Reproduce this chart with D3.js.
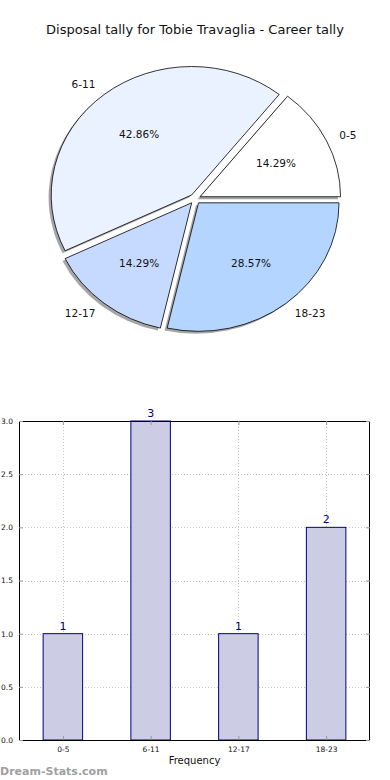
<!DOCTYPE html>
<html lang="en">
<head>
    <meta charset="UTF-8">
    <title>Disposal tally - Tobie Travaglia</title>
    <script src="https://d3js.org/d3.v7.min.js"></script>
    <style>
        body { margin: 0; background: #fff; }
        svg { display: block; font-family: "DejaVu Sans", sans-serif; }
    </style>
</head>
<body>
<div id="chart"></div>
<script>
    // data
    const categories = ["0-5", "6-11", "12-17", "18-23"];
    const counts = [1, 3, 1, 2];
    const sliceColors = ["#ffffff", "#ebf2ff", "#c6d9ff", "#b3d5ff"];
    const yTicks = [0, 0.5, 1.0, 1.5, 2.0, 2.5, 3.0];

    const width = 390, height = 780;
    const svg = d3.select("#chart").append("svg")
        .attr("width", width)
        .attr("height", height);

    svg.append("text")
        .attr("x", 195).attr("y", 34)
        .attr("text-anchor", "middle")
        .attr("font-size", 13)
        .attr("fill", "#111")
        .text("Disposal tally for Tobie Travaglia - Career tally");

    // ---- pie (elliptical, like matplotlib without equal aspect) ----
    const cx = 195.1, cy = 198.9, rx = 140.5, ry = 128.5;
    const explode = 0.039;

    // counter-clockwise from 3 o'clock
    const pie = d3.pie().sort(null).startAngle(Math.PI / 2).endAngle(Math.PI / 2 - 2 * Math.PI);
    const arcs = pie(counts);
    const arc = d3.arc().innerRadius(0).outerRadius(1);
    const total = d3.sum(counts);

    const pieG = svg.append("g").attr("transform", `translate(${cx},${cy})`);

    function unitOffset(d, r) {
        const mid = (d.startAngle + d.endAngle) / 2;
        return [Math.sin(mid) * r, -Math.cos(mid) * r];
    }

    // shadows first
    pieG.append("g").attr("transform", "translate(-2.6,2.4)")
        .selectAll("g")
        .data(arcs)
        .enter().append("g")
        .attr("transform", d => {
            const o = unitOffset(d, explode);
            return `translate(${o[0] * rx},${o[1] * ry}) scale(${rx},${ry})`;
        })
        .append("path")
        .attr("d", arc)
        .attr("fill", "#4d4d4d")
        .attr("opacity", 0.5);

    pieG.append("g")
        .selectAll("g")
        .data(arcs)
        .enter().append("g")
        .attr("transform", d => {
            const o = unitOffset(d, explode);
            return `translate(${o[0] * rx},${o[1] * ry}) scale(${rx},${ry})`;
        })
        .append("path")
        .attr("d", arc)
        .attr("fill", (d, i) => sliceColors[i])
        .attr("stroke", "#000")
        .attr("stroke-width", 0.8)
        .attr("vector-effect", "non-scaling-stroke");

    // percent labels
    pieG.append("g")
        .selectAll("text")
        .data(arcs)
        .enter().append("text")
        .attr("x", d => unitOffset(d, explode + 0.6)[0] * rx)
        .attr("y", d => unitOffset(d, explode + 0.6)[1] * ry)
        .attr("dy", "0.35em")
        .attr("text-anchor", "middle")
        .attr("font-size", 10.5)
        .attr("fill", "#111")
        .text(d => (d.value / total * 100).toFixed(2) + "%");

    // category labels
    pieG.append("g")
        .selectAll("text")
        .data(arcs)
        .enter().append("text")
        .attr("x", d => unitOffset(d, explode + 1.1)[0] * rx)
        .attr("y", d => unitOffset(d, explode + 1.1)[1] * ry)
        .attr("dy", "0.35em")
        .attr("text-anchor", d => unitOffset(d, 1)[0] > 0 ? "start" : "end")
        .attr("font-size", 10.5)
        .attr("fill", "#111")
        .text((d, i) => categories[i]);

    // ---- bar chart ----
    const plotLeft = 19, plotRight = 370, plotTop = 421, plotBottom = 740;
    const x = d3.scaleLinear().domain([-0.5, categories.length - 0.5]).range([plotLeft, plotRight]);
    const y = d3.scaleLinear().domain([0, 3]).range([plotBottom, plotTop]);
    const barW = x(0.45) - x(0);

    const grid = svg.append("g")
        .attr("stroke", "#c4c4c4")
        .attr("stroke-width", 1)
        .attr("stroke-dasharray", "1,2");
    grid.selectAll(".vg").data(categories).enter().append("line")
        .attr("x1", (d, i) => Math.round(x(i)) + 0.5).attr("x2", (d, i) => Math.round(x(i)) + 0.5)
        .attr("y1", plotTop).attr("y2", plotBottom);
    grid.selectAll(".hg").data(yTicks).enter().append("line")
        .attr("x1", plotLeft).attr("x2", plotRight)
        .attr("y1", d => Math.round(y(d)) + 0.5).attr("y2", d => Math.round(y(d)) + 0.5);

    svg.append("g").selectAll("rect")
        .data(counts)
        .enter().append("rect")
        .attr("x", (d, i) => x(i) - barW / 2)
        .attr("y", d => y(d))
        .attr("width", barW)
        .attr("height", d => plotBottom - y(d))
        .attr("fill", "#ccccE5")
        .attr("stroke", "#000080")
        .attr("stroke-width", 1);

    svg.append("g").selectAll("text")
        .data(counts)
        .enter().append("text")
        .attr("x", (d, i) => x(i))
        .attr("y", d => y(d) - 4)
        .attr("text-anchor", "middle")
        .attr("font-size", 11)
        .attr("fill", "#000080")
        .text(d => d);

    // axes frame
    svg.append("rect")
        .attr("x", plotLeft + 0.5).attr("y", plotTop + 0.5)
        .attr("width", plotRight - plotLeft - 1).attr("height", plotBottom - plotTop)
        .attr("fill", "none")
        .attr("stroke", "#000")
        .attr("stroke-width", 1);

    const yAxis = d3.axisLeft(y).tickValues(yTicks).tickFormat(d3.format(".1f")).tickSizeInner(-4).tickSizeOuter(0).tickPadding(6);
    const xAxis = d3.axisBottom(x).tickValues(d3.range(categories.length)).tickFormat(i => categories[i]).tickSizeInner(-4).tickSizeOuter(0).tickPadding(7);

    const ya = svg.append("g").attr("transform", `translate(${plotLeft},0)`).call(yAxis);
    const xa = svg.append("g").attr("transform", `translate(0,${plotBottom})`).call(xAxis);
    [ya, xa].forEach(a => {
        a.select(".domain").remove();
        a.selectAll("text").attr("font-size", 7.5).attr("fill", "#111").attr("font-family", "DejaVu Sans");
        a.selectAll(".tick line").attr("stroke", "#999");
    });
    // ticks on top and right, pointing inward
    svg.append("g").attr("transform", `translate(0,${plotTop})`)
        .call(d3.axisTop(x).tickValues(d3.range(categories.length)).tickFormat("").tickSizeInner(-4).tickSizeOuter(0))
        .call(g => { g.select(".domain").remove(); g.selectAll(".tick line").attr("stroke", "#999"); });
    svg.append("g").attr("transform", `translate(${plotRight},0)`)
        .call(d3.axisRight(y).tickValues(yTicks).tickFormat("").tickSizeInner(-4).tickSizeOuter(0))
        .call(g => { g.select(".domain").remove(); g.selectAll(".tick line").attr("stroke", "#999"); });

    svg.append("text")
        .attr("x", (plotLeft + plotRight) / 2).attr("y", 764)
        .attr("text-anchor", "middle")
        .attr("font-size", 10)
        .attr("fill", "#111")
        .text("Frequency");

    svg.append("text")
        .attr("x", 0).attr("y", 775)
        .attr("font-size", 11)
        .attr("font-weight", "600")
        .attr("fill", "#a0a0a0")
        .text("Dream-Stats.com");
</script>
</body>
</html>
